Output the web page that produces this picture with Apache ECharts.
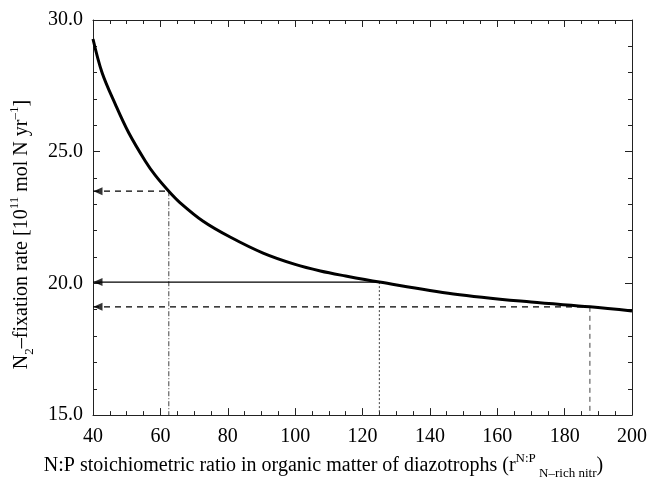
<!DOCTYPE html>
<html>
<head>
<meta charset="utf-8">
<script src="https://cdn.jsdelivr.net/npm/echarts@6/dist/echarts.min.js"></script>
<style>html,body{margin:0;padding:0;background:#fff}#c{width:650px;height:485px}</style>
</head>
<body>
<div id="c"></div>
<script>
// Curve
const curveX = [40, 42.7, 46.7, 50.6, 55.5, 58.5, 62.5, 65.8, 72.7, 80.7, 90.5, 100, 107.5, 115, 125, 147, 170, 187.5, 200];
const curveY = [29.28, 28.0, 26.78, 25.72, 24.65, 24.1, 23.5, 23.07, 22.36, 21.76, 21.15, 20.72, 20.47, 20.28, 20.05, 19.6, 19.29, 19.11, 18.95];
// Reference (read-off) lines
const refX = [62.5, 125, 187.5];
const refY = [23.5, 20.05, 19.11];
const refStyle = ['dashed', 'solid', 'dashed'];
const vertStyle = [[5, 2, 1, 2], [2, 2], [5, 4]];
// Axis ranges / ticks
const xMin = 40, xMax = 200, xStep = 20;
const yMin = 15, yMax = 30, yStep = 5;

const FONT = 'Liberation Serif';
const FS = 20;
const chart = echarts.init(document.getElementById('c'), null, {renderer: 'canvas'});

const series = [];
series.push({
  type: 'line', xAxisIndex: 0, yAxisIndex: 0,
  data: curveX.map((x, i) => [x, curveY[i]]),
  smooth: 0.35, symbol: 'none',
  lineStyle: {color: '#000', width: 3}, z: 5
});
refX.forEach((rx, i) => {
  series.push({
    type: 'line', xAxisIndex: 0, yAxisIndex: 0, symbol: 'none',
    data: [[xMin, refY[i]], [rx, refY[i]]],
    lineStyle: {color: '#000', width: refStyle[i] === 'solid' ? 1.3 : 1.2, type: refStyle[i] === 'solid' ? 'solid' : [6, 5]},
    z: 3
  });
  series.push({
    type: 'line', xAxisIndex: 0, yAxisIndex: 0, symbol: 'none',
    data: [[rx, refY[i]], [rx, yMin]],
    lineStyle: {color: '#444', width: 1, type: vertStyle[i]},
    z: 3
  });
});
series.push({
  type: 'scatter', xAxisIndex: 0, yAxisIndex: 0,
  data: refY.map(y => [xMin, y]),
  symbol: 'path://M0,5 L10,0 L10,10 Z', symbolSize: [9, 8], symbolOffset: [5, 0],
  itemStyle: {color: '#000'}, z: 6, silent: true
});

const axisCommon = {
  axisLine: {show: true, onZero: false, lineStyle: {color: '#222', width: 1}},
  axisTick: {show: true, inside: true, length: 7, lineStyle: {color: '#222'}},
  splitLine: {show: false}
};
const richStyles = {
  n: {fontFamily: FONT, fontSize: FS, color: '#000', lineHeight: 28, verticalAlign: 'middle'},
  sup: {fontFamily: FONT, fontSize: 13, color: '#000', lineHeight: 13, verticalAlign: 'top'},
  sub: {fontFamily: FONT, fontSize: 13, color: '#000', lineHeight: 13, verticalAlign: 'bottom'}
};

chart.setOption({
  animation: false,
  backgroundColor: '#fff',
  grid: {left: 92, right: 17, top: 20, bottom: 61},
  xAxis: [
    Object.assign({}, axisCommon, {
      type: 'value', min: xMin, max: xMax, interval: xStep, position: 'bottom',
      minorTick: {show: true, splitNumber: 4, length: 4, lineStyle: {color: '#222'}},
      axisLabel: {color: '#000', fontFamily: FONT, fontSize: FS, margin: 12},
      name: '{n|N:P stoichiometric ratio in organic matter of diazotrophs (r}{sup|N:P}{sub| N–rich nitr}{n|)}',
      nameLocation: 'middle', nameGap: 32,
      nameTextStyle: {color: '#000', fontFamily: FONT, fontSize: FS, padding: [0, 78, 0, 0], rich: richStyles}
    }),
    Object.assign({}, axisCommon, {
      type: 'value', min: xMin, max: xMax, interval: xStep, position: 'top',
      minorTick: {show: true, splitNumber: 4, length: 4, lineStyle: {color: '#222'}},
      axisLabel: {show: false}
    })
  ],
  yAxis: [
    Object.assign({}, axisCommon, {
      type: 'value', min: yMin, max: yMax, interval: yStep, position: 'left',
      minorTick: {show: true, splitNumber: 5, length: 4, lineStyle: {color: '#222'}},
      axisLabel: {color: '#000', fontFamily: FONT, fontSize: FS, margin: 10, formatter: v => v.toFixed(1)},
      name: '{n|N}{sub|2}{n|–fixation rate [10}{sup|11}{n| mol N yr}{sup|–1}{n|]}',
      nameLocation: 'middle', nameGap: 57, nameRotate: 90,
      nameTextStyle: {color: '#000', fontFamily: FONT, fontSize: FS, padding: [0, 34, 0, 0], rich: richStyles}
    }),
    Object.assign({}, axisCommon, {
      type: 'value', min: yMin, max: yMax, interval: yStep, position: 'right',
      minorTick: {show: true, splitNumber: 5, length: 4, lineStyle: {color: '#222'}},
      axisLabel: {show: false}
    })
  ],
  series: series
});
</script>
</body>
</html>
